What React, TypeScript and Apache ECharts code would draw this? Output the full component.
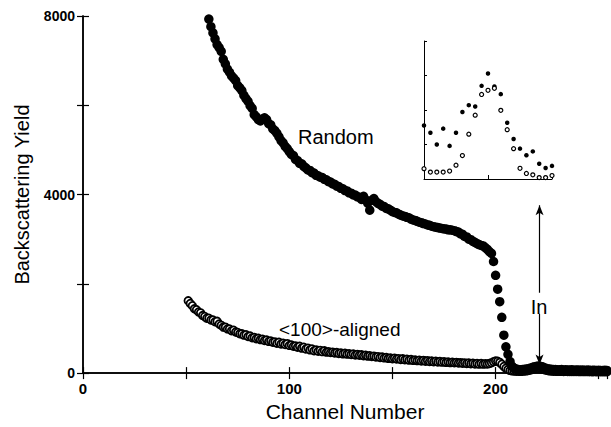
import { useEffect, useRef } from 'react';
import * as echarts from 'echarts';

// Main spectrum: "Random" (filled dots), one value per channel starting at randomStart
const randomStart = 61;
const randomCounts = [
  7930, 7760, 7620, 7490, 7360, 7290, 7210, 7030, 6930, 6810,
  6740, 6660, 6610, 6550, 6440, 6390, 6330, 6220, 6150, 6090,
  5990, 5930, 5790, 5740, 5680, 5650, 5690, 5720, 5680, 5590,
  5560, 5470, 5430, 5370, 5290, 5210, 5160, 5080, 5030, 4960,
  4900, 4870, 4790, 4760, 4700, 4690, 4630, 4600, 4550, 4540,
  4490, 4480, 4430, 4420, 4390, 4380, 4340, 4330, 4290, 4280,
  4240, 4230, 4190, 4180, 4140, 4130, 4090, 4080, 4040, 4030,
  3990, 3990, 3950, 3940, 3890, 3960, 3880, 3810, 3650, 3870,
  3910, 3840, 3800, 3780, 3740, 3730, 3690, 3680, 3650, 3620,
  3600, 3590, 3560, 3540, 3520, 3510, 3490, 3480, 3450, 3430,
  3420, 3400, 3380, 3370, 3350, 3340, 3320, 3310, 3290, 3280,
  3270, 3260, 3250, 3240, 3230, 3230, 3210, 3210, 3200, 3190,
  3170, 3160, 3120, 3110, 3060, 3050, 3000, 2990, 2950, 2930,
  2900, 2880, 2860, 2850, 2810, 2770, 2720, 2680, 2500, 2190,
  1880, 1600, 1250, 850, 590, 420, 260, 150, 110, 90,
  80, 75, 80, 85, 90, 100, 115, 130, 145, 155,
  160, 150, 135, 115, 100, 90, 85, 80, 80, 75,
  75, 80, 70, 75, 70, 70, 75, 65, 70, 70,
  65, 70, 65, 65, 70, 60, 65, 65, 60, 65, 60, 60, 65, 60,
];

// "<100>-aligned" (open circles)
const alignedStart = 51;
const alignedCounts = [
  1620, 1560, 1510, 1440, 1420, 1370, 1350, 1290, 1270, 1230,
  1230, 1190, 1190, 1150, 1160, 1100, 1070, 1030, 1030, 990,
  990, 950, 960, 920, 910, 880, 880, 850, 860, 820,
  830, 790, 800, 770, 780, 750, 760, 730, 740, 710,
  720, 690, 700, 670, 690, 650, 670, 640, 660, 620,
  630, 600, 610, 580, 600, 560, 580, 540, 560, 520,
  540, 500, 520, 490, 510, 480, 500, 470, 480, 460,
  470, 450, 460, 440, 450, 430, 445, 425, 435, 415,
  430, 405, 420, 400, 410, 390, 400, 380, 390, 370,
  380, 360, 370, 350, 360, 340, 350, 330, 340, 320,
  335, 315, 325, 305, 320, 300, 310, 290, 305, 285,
  295, 280, 290, 270, 285, 265, 280, 260, 270, 255,
  265, 250, 260, 245, 255, 240, 250, 235, 245, 230,
  240, 225, 235, 220, 230, 215, 225, 210, 220, 205,
  215, 200, 215, 200, 210, 205, 215, 230, 255, 270,
  265, 240, 200, 150, 110, 80, 60, 50, 45, 40,
  40, 38, 42, 45, 50, 60, 72, 85, 95, 100,
  100, 95, 85, 72, 60, 50, 45, 42, 40, 38,
  38, 40, 36, 38, 35, 37, 35, 36, 34, 35, 33, 35, 32, 34,
  32, 33, 31, 33, 30, 32, 30, 31, 30, 30,
];

// Inset (In surface peak region, arbitrary units)
const insetIndex = [0, 1, 2, 3, 4, 5, 6, 7, 8, 9, 10, 11, 12, 13, 14, 15, 16, 17, 18, 19, 20];
const insetRandom = [155, 134, 100, 146, 96, 134, 194, 214, 210, 270, 306, 268, 246, 163, 116, 88, 69, 80, 44, 32, 38];
const insetAligned = [30, 20, 20, 20, 23, 40, 68, 130, 185, 245, 257, 263, 199, 143, 88, 31, 16, 12, 4, 4, 10];

const xLabelValues = [0, 100, 200];
const yLabelValues = [0, 4000, 8000];

// In arrow (channel, yield)
const arrowChannel = 221.3;
const arrowUp = [1800, 3760];
const arrowDown = [1330, 190];

const FONT = "'Liberation Sans', Arial, sans-serif";

export default function App() {
  const ref = useRef<HTMLDivElement>(null);
  useEffect(() => {
    if (!ref.current) return;
    const chart = echarts.init(ref.current, undefined, { renderer: 'svg' });
    const randomData = randomCounts.map((v, i) => [randomStart + i, v]);
    const alignedData = alignedCounts.map((v, i) => [alignedStart + i, v]);
    const line = { show: true, lineStyle: { color: '#000', width: 1.5 } };
    const tick = { show: true, inside: true, length: 6, lineStyle: { color: '#000', width: 1.2 } };
    chart.setOption({
      animation: false,
      backgroundColor: '#fff',
      grid: [
        { left: 83, top: 16, width: 524, height: 362 },
        { left: 424, top: 41, width: 128, height: 138 },
      ],
      xAxis: [
        {
          gridIndex: 0, type: 'value', min: 0, max: 254, interval: 50, position: 'bottom',
          axisLine: line, axisTick: tick, splitLine: { show: false },
          axisLabel: {
            formatter: (v: number) => (xLabelValues.includes(v) ? String(v) : ''),
            fontSize: 15, fontWeight: 'bold', color: '#000', margin: 8, fontFamily: FONT,
          },
          name: 'Channel Number', nameLocation: 'middle', nameGap: 24,
          nameTextStyle: { fontSize: 21, color: '#000', fontFamily: FONT },
        },
        {
          gridIndex: 0, type: 'value', min: 0, max: 254, interval: 50, position: 'top',
          axisLine: line, axisTick: tick, splitLine: { show: false }, axisLabel: { show: false },
        },
        {
          gridIndex: 1, type: 'value', min: 0, max: 20, interval: 10, position: 'bottom',
          axisLine: { show: true, lineStyle: { color: '#000', width: 1 } },
          axisTick: { show: true, inside: true, length: 4, lineStyle: { color: '#000', width: 1 } },
          splitLine: { show: false }, axisLabel: { show: false },
        },
      ],
      yAxis: [
        {
          gridIndex: 0, type: 'value', min: 0, max: 8000, interval: 2000, position: 'left',
          axisLine: line, axisTick: tick, splitLine: { show: false },
          axisLabel: {
            formatter: (v: number) => (yLabelValues.includes(v) ? String(v) : ''),
            fontSize: 14, fontWeight: 'bold', color: '#000', margin: 8, fontFamily: FONT,
          },
          name: 'Backscattering Yield', nameLocation: 'middle', nameGap: 51,
          nameTextStyle: { fontSize: 20, color: '#000', fontFamily: FONT },
        },
        {
          gridIndex: 0, type: 'value', min: 0, max: 8000, interval: 2000, position: 'right',
          axisLine: line, axisTick: tick, splitLine: { show: false }, axisLabel: { show: false },
        },
        {
          gridIndex: 1, type: 'value', min: 0, max: 400, interval: 100, position: 'left',
          axisLine: { show: true, lineStyle: { color: '#000', width: 1 } },
          axisTick: { show: true, inside: true, length: 3, lineStyle: { color: '#000', width: 1 } },
          splitLine: { show: false }, axisLabel: { show: false },
        },
      ],
      series: [
        {
          name: '<100>-aligned', type: 'scatter', xAxisIndex: 0, yAxisIndex: 0,
          data: alignedData, symbol: 'circle', symbolSize: 7.5,
          itemStyle: { color: '#fff', borderColor: '#000', borderWidth: 1.8, opacity: 1 },
        },
        {
          name: 'Random', type: 'scatter', xAxisIndex: 0, yAxisIndex: 0,
          data: randomData, symbol: 'circle', symbolSize: 9.5,
          itemStyle: { color: '#000', opacity: 1 },
          markLine: {
            silent: true, symbol: ['none', 'arrow'], symbolSize: [6, 10],
            label: { show: false },
            lineStyle: { color: '#000', width: 1.2, type: 'solid', opacity: 1 },
            data: [
              [{ coord: [arrowChannel, arrowUp[0]] }, { coord: [arrowChannel, arrowUp[1]] }],
              [{ coord: [arrowChannel, arrowDown[0]] }, { coord: [arrowChannel, arrowDown[1]] }],
            ],
          },
        },
        {
          name: 'inset random', type: 'scatter', xAxisIndex: 2, yAxisIndex: 2,
          data: insetIndex.map((x, i) => [x, insetRandom[i]]), symbol: 'circle', symbolSize: 4.5,
          itemStyle: { color: '#000', opacity: 1 },
        },
        {
          name: 'inset aligned', type: 'scatter', xAxisIndex: 2, yAxisIndex: 2,
          data: insetIndex.map((x, i) => [x, insetAligned[i]]), symbol: 'circle', symbolSize: 4,
          itemStyle: { color: '#fff', borderColor: '#000', borderWidth: 1.2, opacity: 1 },
        },
      ],
      graphic: [
        { type: 'text', x: 298, y: 137, style: { text: 'Random', fontSize: 20, fontFamily: FONT, fill: '#000', align: 'left', verticalAlign: 'middle' } },
        { type: 'text', x: 279, y: 329, style: { text: '<100>-aligned', fontSize: 19, fontFamily: FONT, fill: '#000', align: 'left', verticalAlign: 'middle' } },
        { type: 'text', x: 539, y: 307, style: { text: 'In', fontSize: 20, fontFamily: FONT, fill: '#000', align: 'center', verticalAlign: 'middle' } },
      ],
    });
    return () => chart.dispose();
  }, []);
  return <div ref={ref} style={{ position: 'fixed', left: 0, top: 0, width: 611, height: 427, background: '#fff' }} />;
}
